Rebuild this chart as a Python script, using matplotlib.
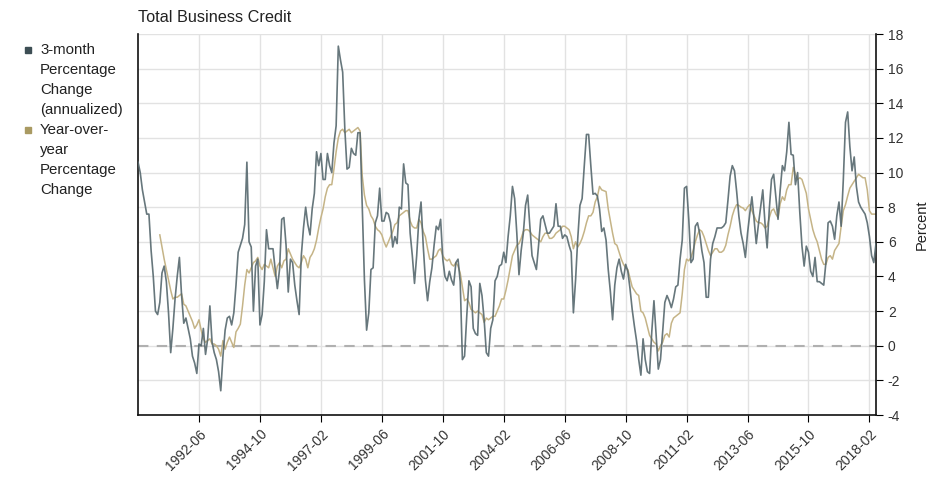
import matplotlib
matplotlib.use("Agg")
import matplotlib.pyplot as plt
import numpy as np
import pandas as pd

plt.rcParams['font.family'] = ['Liberation Sans', 'DejaVu Sans']
plt.rcParams['axes.unicode_minus'] = False

# monthly values from 1990-02
start = "1990-02"
three_month = [
    10.6, 10.0, 9.0, 8.3, 7.6, 7.6, 5.5, 4.0, 2.0, 1.8, 2.5, 4.2,
    4.6, 3.7, 1.9, -0.4, 1.0, 2.7, 4.0, 5.1, 2.9, 1.3, 1.6, 1.0,
    0.4, -0.6, -1.0, -1.6, 0.1, 0.0, 1.0, -0.5, 0.4, 2.3, 0.2, -0.4,
    -0.8, -1.5, -2.6, -0.6, 0.9, 1.6, 1.7, 1.2, 1.9, 3.5, 5.4, 5.8,
    6.2, 7.0, 10.6, 6.0, 5.7, 2.0, 4.6, 5.0, 1.2, 1.8, 3.7, 6.7,
    5.6, 5.6, 5.6, 4.4, 3.3, 4.4, 7.3, 7.4, 5.8, 3.1, 5.0, 4.8,
    3.5, 2.6, 1.8, 5.2, 6.8, 8.0, 7.0, 6.4, 7.9, 8.8, 11.2, 10.4,
    11.1, 9.6, 9.6, 11.1, 10.4, 10.0, 11.7, 12.7, 17.3, 16.5, 15.8, 12.5,
    10.2, 10.3, 11.4, 11.1, 11.0, 12.3, 12.3, 8.0, 3.8, 0.9, 1.9, 4.4,
    4.5, 7.1, 7.5, 9.1, 7.2, 7.2, 7.7, 7.6, 7.1, 5.7, 6.3, 5.9,
    8.0, 7.9, 10.5, 9.4, 9.3, 6.5, 5.2, 3.6, 5.2, 7.3, 8.3, 5.8,
    3.8, 2.6, 3.7, 4.5, 5.8, 6.9, 6.7, 7.3, 5.0, 4.0, 3.75, 4.3,
    3.8, 3.5, 4.8, 5.0, 3.7, -0.8, -0.6, 1.7, 3.75, 3.4, 1.0, 0.7,
    0.6, 3.6, 2.9, 1.5, -0.4, -0.6, 1.0, 1.5, 3.75, 4.0, 4.6, 4.7,
    5.4, 4.8, 6.3, 7.5, 9.2, 8.5, 6.5, 4.1, 5.5, 6.5, 8.1, 8.7,
    6.9, 5.2, 4.8, 4.4, 5.8, 7.3, 7.5, 7.0, 6.5, 6.5, 6.7, 6.9,
    8.2, 6.9, 6.9, 6.2, 6.4, 6.3, 5.8, 5.4, 1.9, 3.8, 6.2, 8.1,
    8.5, 10.4, 12.2, 12.2, 10.4, 8.75, 8.8, 8.65, 7.9, 6.6, 6.8, 6.1,
    4.4, 3.1, 1.5, 3.5, 4.5, 5.0, 4.3, 3.85, 4.7, 4.3, 3.3, 2.1,
    1.15, 0.3, -0.8, -1.7, 0.4, -0.8, -1.5, -1.6, 0.8, 2.6, 0.6, -1.35,
    -0.8, 0.8, 2.5, 2.9, 2.6, 2.2, 2.7, 3.4, 3.5, 5.0, 6.1, 9.1,
    9.2, 7.3, 4.8, 5.0, 6.9, 7.1, 6.5, 5.5, 4.8, 2.8, 2.8, 5.0,
    5.9, 6.3, 6.8, 6.8, 6.8, 6.9, 7.1, 8.4, 9.8, 10.4, 10.1, 8.9,
    7.5, 6.5, 5.9, 5.1, 6.5, 7.6, 8.6, 7.3, 5.9, 7.0, 8.0, 9.0,
    7.1, 5.65, 7.9, 9.6, 9.9, 8.6, 7.3, 9.0, 10.4, 10.1, 11.2, 12.9,
    11.05, 11.0, 9.3, 10.0, 7.7, 5.75, 4.6, 5.75, 5.4, 4.3, 4.0, 5.1,
    3.7, 3.7, 3.6, 3.5, 4.8, 7.1, 7.2, 6.9, 6.15, 7.5, 8.3, 6.9,
    9.6, 12.9, 13.5, 11.5, 10.1, 10.9, 9.2, 8.3, 8.0, 7.8, 7.6, 7.1,
    6.3, 5.2, 4.8, 5.9,
]
year_over_year = [np.nan] * 10 + [
    6.4, 5.7,
    5.0, 4.4, 3.8, 3.2, 2.7, 2.8, 2.8, 2.9, 3.0, 2.4, 2.3, 2.0,
    1.7, 1.4, 1.0, 1.2, 1.5, 0.9, 0.4, 0.2, 0.3, 0.4, 0.1, 0.1,
    0.0, -0.2, -0.6, 0.3, -0.2, 0.2, 0.5, 0.2, -0.1, 0.8, 1.0, 1.25,
    2.3, 3.5, 4.4, 4.2, 4.5, 4.8, 4.9, 5.1, 4.6, 4.4, 4.7, 4.6,
    4.5, 5.0, 4.5, 4.0, 4.6, 4.8, 4.5, 4.9, 5.0, 5.6, 5.3, 5.0,
    4.8, 4.6, 4.5, 4.8, 5.2, 5.0, 4.5, 5.1, 5.3, 5.6, 6.1, 6.8,
    7.4, 7.9, 8.6, 9.1, 9.3, 9.3, 10.2, 11.2, 12.0, 12.4, 12.5, 12.3,
    12.4, 12.5, 12.3, 12.4, 12.5, 12.6, 12.4, 9.8, 8.7, 8.1, 7.9, 7.5,
    7.3, 6.9, 6.7, 6.6, 6.4, 6.0, 5.7, 6.0, 6.3, 6.6, 7.0, 7.1,
    7.5, 7.6, 7.7, 7.8, 7.8, 7.2, 6.9, 6.8, 6.8, 7.3, 7.1, 6.6,
    6.3, 5.6, 5.0, 5.0, 5.1, 5.2, 5.5, 5.6, 5.2, 5.0, 4.9, 5.0,
    4.7, 4.6, 4.8, 4.6, 4.2, 3.4, 2.6, 2.7, 2.5, 2.1, 2.0, 1.9,
    2.0, 1.9, 1.8, 1.35, 1.6, 1.5, 1.6, 1.7, 1.7, 2.0, 2.3, 2.7,
    2.7, 3.2, 3.8, 4.5, 5.2, 5.5, 5.8, 5.9, 6.2, 6.6, 6.7, 6.7,
    6.6, 6.4, 6.3, 6.2, 6.1, 6.0, 6.3, 6.5, 6.5, 6.2, 6.2, 6.3,
    6.5, 6.6, 6.7, 6.9, 6.9, 6.8, 6.7, 6.3, 5.6, 6.0, 5.7, 5.9,
    6.2, 6.6, 7.1, 7.5, 7.5, 7.7, 8.3, 8.6, 9.2, 9.0, 8.95, 8.9,
    7.9, 7.2, 6.5, 5.9, 5.8, 5.4, 5.0, 4.7, 4.5, 4.4, 3.9, 3.4,
    3.2, 3.0, 2.9, 2.0, 1.9, 1.6, 1.1, 0.6, 0.4, 0.2, 0.1, -0.3,
    0.0, 0.2, 0.6, 0.7, 0.5, 1.3, 1.6, 1.7, 1.8, 1.9, 3.0, 4.4,
    5.0, 4.9, 5.1, 5.5, 6.0, 6.4, 6.7, 6.6, 6.3, 5.9, 5.5, 5.2,
    5.4, 5.6, 5.6, 5.4, 5.4, 5.5, 5.8, 6.4, 6.9, 7.5, 7.9, 8.15,
    8.1, 8.0, 7.95, 7.8, 8.0, 8.15, 7.8, 7.5, 7.2, 7.1, 7.1, 7.0,
    6.8, 6.9, 7.4, 7.8, 7.9, 7.6, 7.4, 8.2, 8.6, 8.4, 9.0, 9.3,
    9.3, 10.3, 9.9, 9.6, 9.7, 9.6, 9.2, 8.8, 7.9, 7.3, 6.7, 6.3,
    6.0, 5.5, 5.0, 4.7, 4.7, 5.1, 5.2, 5.0, 5.5, 5.7, 5.9, 6.9,
    7.8, 8.15, 8.65, 9.1, 9.3, 9.5, 9.7, 9.9, 9.8, 9.7, 9.7, 9.0,
    7.8, 7.6, 7.6, 7.6,
]
series_names = ["3-month\nPercentage\nChange\n(annualized)",
                "Year-over-\nyear\nPercentage\nChange"]
n = min(len(three_month), len(year_over_year))
three_month = three_month[:n]
year_over_year = year_over_year[:n]
dates = pd.period_range(start, periods=n, freq="M").strftime("%Y-%m")

c_three = "#56686e"
c_yoy = "#c5b487"

fig = plt.figure(figsize=(9.41, 4.95), dpi=100)
ax = fig.add_axes([0.1467, 0.1616, 0.9309 - 0.1467, 0.9313 - 0.1616])

x = np.arange(n)
ax.axhline(0, color="#b0b0b0", lw=1.5, ls=(0, (5, 4)), zorder=1)
ax.plot(x, year_over_year, color=c_yoy, lw=1.1, zorder=2)
ax.plot(x, three_month, color=c_three, lw=1.2, alpha=0.9, zorder=3)

ax.set_xlim(0, n - 1)
ax.set_ylim(-4, 18)
ax.set_yticks(np.arange(-4, 19, 2))
ticks = np.arange(28, n, 28)
ax.set_xticks(ticks)
ax.set_xticklabels([dates[i] for i in ticks], rotation=45, ha="right",
                   rotation_mode="anchor", fontsize=10, color="#333333")
ax.yaxis.tick_right()
ax.yaxis.set_label_position("right")
ax.tick_params(axis="y", labelsize=10, labelcolor="#333333", length=5)
ax.tick_params(axis="x", length=5)
ax.set_ylabel("Percent", fontsize=10.5, color="#222222", labelpad=8)
ax.grid(True, color="#e2e2e2", lw=1)
ax.set_axisbelow(True)
ax.spines["top"].set_visible(False)
for s in ("left", "right", "bottom"):
    ax.spines[s].set_color("#111111")
    ax.spines[s].set_linewidth(1.2)

fig.text(0.1467, 0.955, "Total Business Credit", fontsize=11.7, color="#222222",
         ha="left", va="baseline")

# left-hand legend
y0 = 1 - 50 / 495
dy = 20 / 495
row = 0
for name, col in zip(series_names, ["#3d4e54", "#a99a62"]):
    fig.patches.append(plt.Rectangle((25 / 941, y0 - row * dy - 3 / 495), 6 / 941, 6 / 495,
                                     transform=fig.transFigure, color=col, figure=fig))
    for line in name.split("\n"):
        fig.text(40 / 941, y0 - row * dy, line, fontsize=10.8, color="#222222",
                 ha="left", va="center")
        row += 1

fig.savefig("out.png", dpi=100)
